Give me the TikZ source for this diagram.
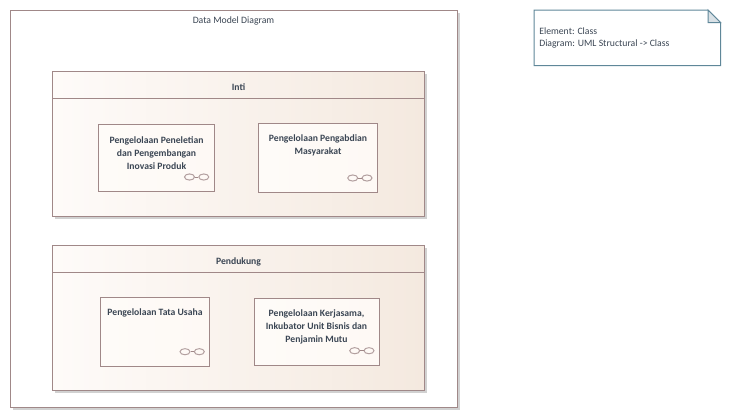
\documentclass[tikz,border=0pt]{standalone}
\usepackage{fontspec}
\setmainfont{Carlito}
\usetikzlibrary{shapes.geometric}
\definecolor{frameline}{HTML}{A08888}
\definecolor{noteline}{HTML}{5F8799}
\definecolor{notefold}{HTML}{D9E1E6}
\definecolor{labeltext}{HTML}{3B4654}
\definecolor{pkgleft}{HTML}{FEFBF9}
\definecolor{pkgright}{HTML}{F4E9DF}
\definecolor{classleft}{HTML}{FEFBF8}
\definecolor{classright}{HTML}{FEF9F5}
\tikzset{
  framebox/.style={draw=frameline,line width=.75pt,fill=white,anchor=north west,inner sep=0pt},
  pkgbox/.style={draw=frameline,line width=.75pt,left color=pkgleft,right color=pkgright,anchor=north west,inner sep=0pt},
  classbox/.style={draw=frameline,line width=.75pt,left color=classleft,right color=classright,anchor=north west,inner sep=0pt},
  boxtitle/.style={font=\fontsize{7.25pt}{9.75pt}\selectfont\bfseries,text=labeltext,align=center,inner sep=0pt},
  plaintitle/.style={font=\fontsize{7.3pt}{9.75pt}\selectfont,text=labeltext,align=left,inner sep=0pt},
  linkring/.style={draw=frameline!80,line width=.75pt,ellipse,minimum width=7.5pt,minimum height=4.6pt,inner sep=0pt},
  dropshade/.style={fill=black!18,draw=none}
}
\begin{document}
\begin{tikzpicture}[x=.75pt,y=-.75pt]
  \useasboundingbox (0,0) rectangle (730,418);
  % outer frame
  \fill[dropshade] (13,13) rectangle (460,410);
  \node[framebox,minimum width=335.25pt,minimum height=297.75pt] (diagram) at (10,10) {};
  \node[plaintitle] (diagramtitle) at (233.5,21) {Data Model Diagram};
  % note
  \draw[draw=noteline,line width=.75pt,fill=white] (534,10) -- (708,10) -- (720.5,22.5) -- (720.5,65.5) -- (534,65.5) -- cycle;
  \draw[draw=noteline,line width=.75pt,fill=notefold] (708,10) -- (708,22.5) -- (720.5,22.5) -- cycle;
  \node[plaintitle,anchor=west] (noteone) at (539,31) {Element: Class};
  \node[plaintitle,anchor=west] (notetwo) at (539,44) {Diagram: UML Structural -> Class};
  % packages
  \fill[dropshade] (55,74) rectangle (427,219);
  \node[pkgbox,minimum width=279pt,minimum height=108.75pt] (inti) at (52,71) {};
  \draw[draw=frameline,line width=.75pt] (52,98) -- (424,98);
  \node[boxtitle] (intititle) at (238.5,87) {Inti};
  \fill[dropshade] (55,248) rectangle (427,393);
  \node[pkgbox,minimum width=279pt,minimum height=108.75pt] (pendukung) at (52,245) {};
  \draw[draw=frameline,line width=.75pt] (52,272) -- (424,272);
  \node[boxtitle] (pendukungtitle) at (238.5,261.5) {Pendukung};
  % classes
  \node[classbox,minimum width=87pt,minimum height=50.25pt] (peneletian) at (98,124) {};
  \node[boxtitle] at (156.5,153) {Pengelolaan Peneletian\\dan Pengembangan\\Inovasi Produk};
  \node[classbox,minimum width=89.25pt,minimum height=51.75pt] (pengabdian) at (258,123) {};
  \node[boxtitle] at (318,145.5) {Pengelolaan Pengabdian\\Masyarakat};
  \node[classbox,minimum width=81.75pt,minimum height=51.75pt] (tatausaha) at (100,297) {};
  \node[boxtitle] at (155,313) {Pengelolaan Tata Usaha};
  \node[classbox,minimum width=93.75pt,minimum height=50.25pt] (kerjasama) at (254,298) {};
  \node[boxtitle] at (316.5,327) {Pengelolaan Kerjasama,\\Inkubator Unit Bisnis dan\\Penjamin Mutu};
  % link icons
  \foreach \cname/\cx/\cy in {a/189.5/177,b/352.7/178,c/185/351.7,d/354.7/350.7}{
    \node[linkring] (ring\cname l) at (\cx,\cy) {};
    \node[linkring] (ring\cname r) at (\cx+14.3,\cy) {};
    \draw[draw=frameline,line width=.75pt] (ring\cname l) -- (ring\cname r);
  }
\end{tikzpicture}
\end{document}
